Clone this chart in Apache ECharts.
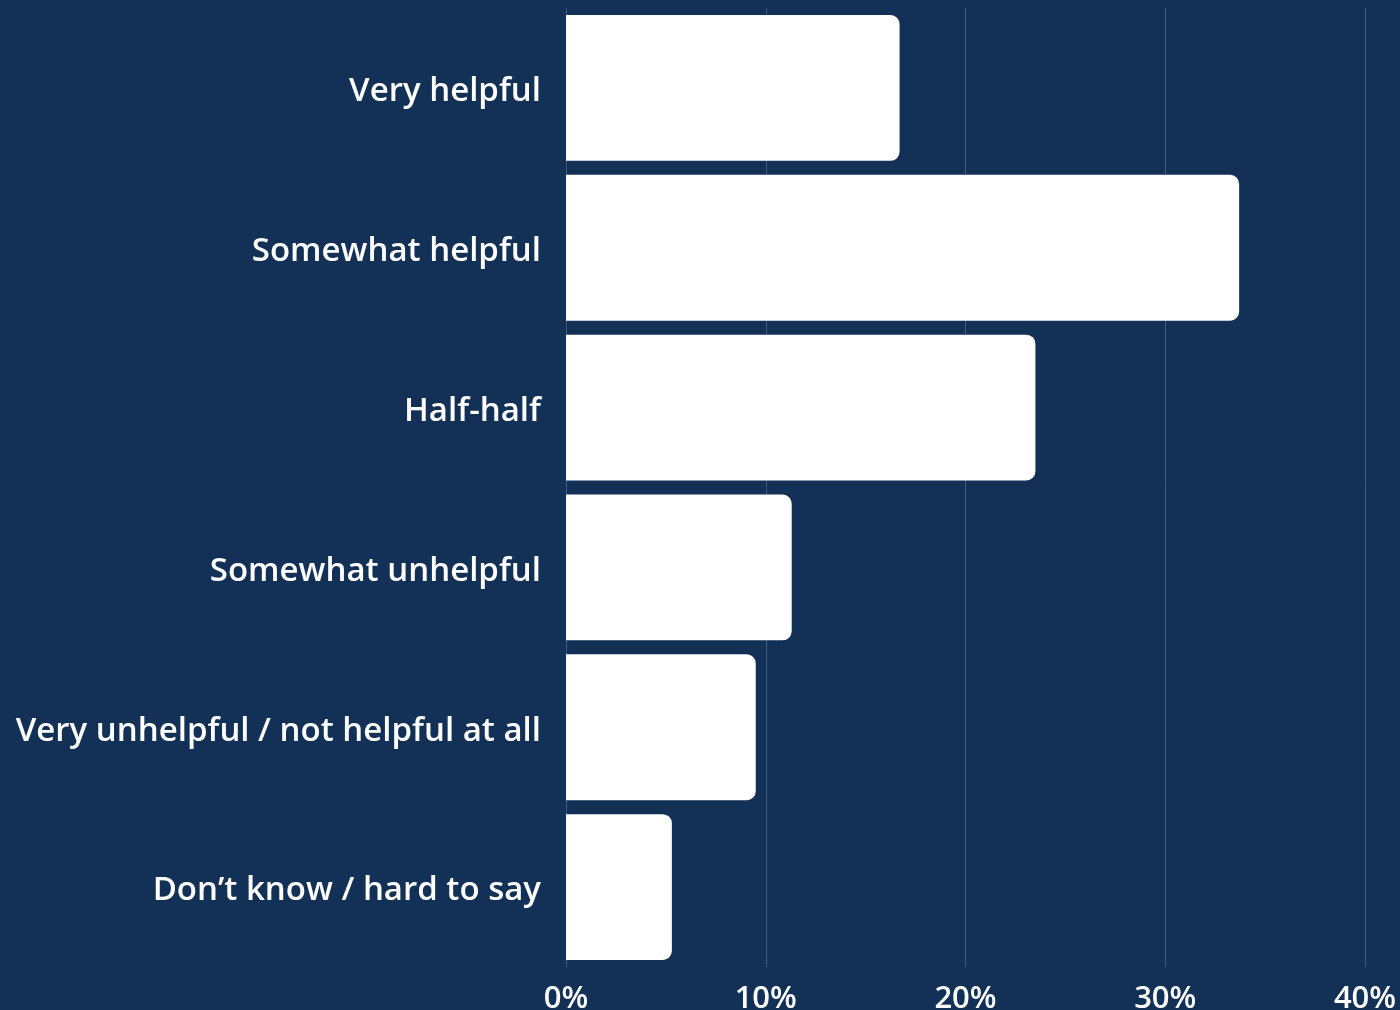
<!DOCTYPE html>
<html style="height: 100%">
<head>
	<meta charset="utf-8">
	<script src="https://cdn.jsdelivr.net/npm/echarts@6/dist/echarts.min.js"></script>
</head>
<body style="height: 100%; margin: 0; background: #133157">
	<div id="container" style="width: 1400px; height: 1010px;"></div>
	<script type="text/javascript">
		// data, top to bottom as shown
		let categories = ['Very helpful', 'Somewhat helpful', 'Half-half', 'Somewhat unhelpful', 'Very unhelpful / not helpful at all', 'Don\u2019t know / hard to say'];
		let values = [16.7, 33.7, 23.5, 11.3, 9.5, 5.3];
		let xTicks = [0, 10, 20, 30, 40];

		let myChart = echarts.init(document.getElementById('container'));
		let option = {
			backgroundColor: '#133157',
			animation: false,
			grid: { left: 566, right: 35, top: 8, bottom: 43, outerBoundsMode: 'none' },
			xAxis: {
				type: 'value',
				min: xTicks[0],
				max: xTicks[xTicks.length - 1],
				interval: 10,
				axisLine: { show: false },
				axisTick: { show: false },
				splitLine: { lineStyle: { color: '#3f5b82', width: 1 } },
				axisLabel: {
					formatter: '{value}%',
					color: '#ffffff',
					fontFamily: 'Open Sans',
					fontWeight: 600,
					fontSize: 31,
					margin: 17
				}
			},
			yAxis: {
				type: 'category',
				inverse: true,
				data: categories,
				axisLine: { show: false },
				axisTick: { show: false },
				axisLabel: {
					color: '#ffffff',
					fontFamily: 'Open Sans',
					fontWeight: 600,
					fontSize: 33,
					margin: 25,
					verticalAlign: 'top',
					lineHeight: 8
				}
			},
			series: [{
				type: 'bar',
				data: values,
				barCategoryGap: '8.75%',
				itemStyle: { color: '#ffffff', borderRadius: [0, 9, 9, 0] }
			}]
		};
		myChart.setOption(option);
	</script>
</body>
</html>
